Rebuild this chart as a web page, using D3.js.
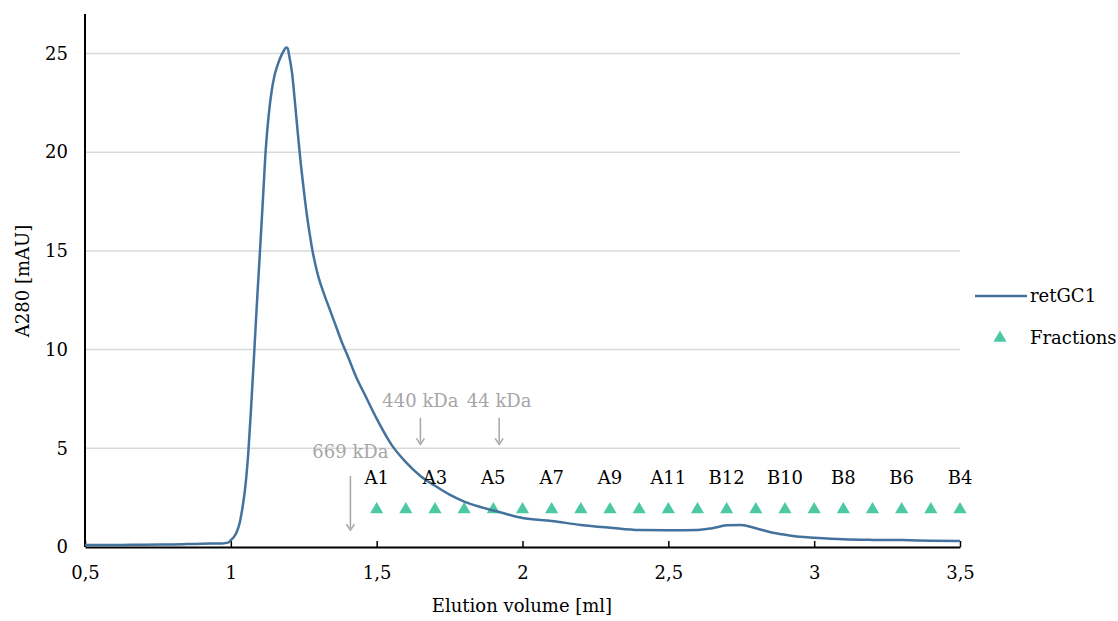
<!DOCTYPE html>
<html>
<head>
<meta charset="utf-8">
<script src="https://cdn.jsdelivr.net/npm/d3@7"></script>
<style>
  body { margin: 0; background: #fff; }
</style>
</head>
<body>
<svg id="canvas"></svg>
<script>
// Declare data
let volumes = [0.5, 0.6, 0.7, 0.8, 0.9, 0.97, 0.99, 1.0, 1.01, 1.02, 1.03, 1.04, 1.05, 1.06, 1.07, 1.08, 1.09, 1.10,
  1.11, 1.12, 1.13, 1.14, 1.15, 1.16, 1.17, 1.18, 1.19, 1.195, 1.20, 1.21, 1.22, 1.23, 1.24, 1.25, 1.26, 1.27, 1.28,
  1.29, 1.30, 1.32, 1.34, 1.36, 1.38, 1.40, 1.43, 1.46, 1.50, 1.55, 1.60, 1.65, 1.70, 1.75, 1.80, 1.85, 1.90, 1.95, 2.0,
  2.1, 2.2, 2.3, 2.4, 2.5, 2.6, 2.65, 2.7, 2.75, 2.8, 2.85, 2.9, 2.95, 3.0, 3.1, 3.2, 3.3, 3.4, 3.5];
let absorbance = [0.1, 0.1, 0.12, 0.13, 0.17, 0.18, 0.22, 0.35, 0.5, 0.75, 1.2, 2.0, 3.1, 4.8, 7.2, 9.8, 12.5, 15,
  17.6, 20.2, 21.9, 23.1, 23.9, 24.4, 24.8, 25.1, 25.3, 25.25, 24.9, 24.0, 22.5, 20.9, 19.4, 18.1, 16.9, 15.9, 15.0,
  14.3, 13.7, 12.8, 12.0, 11.2, 10.4, 9.7, 8.6, 7.7, 6.5, 5.2, 4.3, 3.6, 3.1, 2.65, 2.3, 2.05, 1.85, 1.65, 1.47,
  1.32, 1.12, 0.98, 0.86, 0.85, 0.86, 0.95, 1.1, 1.12, 0.95, 0.75, 0.62, 0.52, 0.47, 0.39, 0.36, 0.35, 0.32, 0.3];

let fractionVolumes = [1.5, 1.6, 1.7, 1.8, 1.9, 2.0, 2.1, 2.2, 2.3, 2.4, 2.5, 2.6, 2.7, 2.8, 2.9, 3.0, 3.1, 3.2, 3.3, 3.4, 3.5];
let fractionLevel = 1.9;

let fractionLabels = ["A1", "A3", "A5", "A7", "A9", "A11", "B12", "B10", "B8", "B6", "B4"];
let fractionLabelVolumes = [1.5, 1.7, 1.9, 2.1, 2.3, 2.5, 2.7, 2.9, 3.1, 3.3, 3.5];
let fractionLabelLevel = 3.5;

let markerNames = ["669 kDa", "440 kDa", "44 kDa"];
let markerVolumes = [1.41, 1.65, 1.92];
let markerTextLevels = [4.85, 7.4, 7.4];
let markerArrowTop = [3.6, 6.55, 6.55];
let markerArrowBottom = [0.85, 5.2, 5.2];

let xTicks = [0.5, 1, 1.5, 2, 2.5, 3, 3.5];
let yTicks = [0, 5, 10, 15, 20, 25];

// Layout
let width = 1118;
let height = 621;
let plotLeft = 85, plotRight = 960, plotTop = 14, plotBottom = 547;
let fontSize = 18;
let serif = "'DejaVu Serif', 'Liberation Serif', 'Times New Roman', serif";
let lineColor = "#43729c";
let triColor = "#4cc8a2";
let gray = "#a6a6a6";

let canvas = d3.select("#canvas").attr("width", width).attr("height", height)
  .style("font-family", serif);

let xScale = d3.scaleLinear().domain([0.5, 3.5]).range([plotLeft, plotRight]);
let yScale = d3.scaleLinear().domain([0, 27]).range([plotBottom, plotTop]);

let commaFormat = (d) => String(d).replace(".", ",");

// Gridlines
canvas.append("g")
  .selectAll("line")
  .data(yTicks.filter((d) => d > 0))
  .enter()
  .append("line")
  .attr("x1", plotLeft)
  .attr("x2", plotRight)
  .attr("y1", (d) => yScale(d))
  .attr("y2", (d) => yScale(d))
  .attr("stroke", "#d9d9d9")
  .attr("stroke-width", 1.5);

// Axes
let xAxis = d3.axisBottom(xScale).tickValues(xTicks).tickFormat(commaFormat).tickSizeInner(-6).tickSizeOuter(0).tickPadding(19);
let yAxis = d3.axisLeft(yScale).tickValues(yTicks).tickSize(0).tickPadding(17);

let gx = canvas.append("g")
  .attr("transform", "translate(0," + plotBottom + ")")
  .call(xAxis);
gx.attr("font-family", null).attr("font-size", fontSize);
gx.select(".domain").attr("stroke", "#000").attr("stroke-width", 2);
gx.selectAll(".tick line").attr("stroke", "#000").attr("stroke-width", 1.5);
gx.selectAll(".tick text").attr("fill", "#000");

let gy = canvas.append("g")
  .attr("transform", "translate(" + plotLeft + ",0)")
  .call(yAxis);
gy.attr("font-family", null).attr("font-size", fontSize);
gy.select(".domain").remove();
gy.append("line")
  .attr("x1", 0).attr("x2", 0)
  .attr("y1", plotTop).attr("y2", plotBottom)
  .attr("stroke", "#000").attr("stroke-width", 2);
gy.selectAll(".tick text").attr("fill", "#000");

// Axis titles
canvas.append("text")
  .attr("x", 522)
  .attr("y", 612)
  .attr("text-anchor", "middle")
  .attr("font-size", fontSize)
  .text("Elution volume [ml]");

canvas.append("text")
  .attr("transform", "translate(29," + 281 + ") rotate(-90)")
  .attr("text-anchor", "middle")
  .attr("font-size", fontSize)
  .text("A280 [mAU]");

// Fraction triangles
let triangle = d3.symbol().type(d3.symbolTriangle).size(75);
canvas.append("g")
  .selectAll("path")
  .data(fractionVolumes)
  .enter()
  .append("path")
  .attr("d", triangle)
  .attr("transform", (d) => "translate(" + xScale(d) + "," + yScale(fractionLevel) + ")")
  .attr("fill", triColor);

// Chromatogram line
let points = volumes.map((v, i) => [v, absorbance[i]]);
let line = d3.line()
  .x((d) => xScale(d[0]))
  .y((d) => yScale(d[1]))
  .curve(d3.curveMonotoneX);

canvas.append("path")
  .datum(points)
  .attr("d", line)
  .attr("fill", "none")
  .attr("stroke", lineColor)
  .attr("stroke-width", 2.5);

// Fraction labels
canvas.append("g")
  .selectAll("text")
  .data(fractionLabels)
  .enter()
  .append("text")
  .attr("x", (d, i) => xScale(fractionLabelVolumes[i]))
  .attr("y", yScale(fractionLabelLevel))
  .attr("dy", "0.35em")
  .attr("text-anchor", "middle")
  .attr("font-size", fontSize)
  .text((d) => d);

// Marker annotations
let markers = canvas.append("g");
markers.selectAll("text")
  .data(markerNames)
  .enter()
  .append("text")
  .attr("x", (d, i) => xScale(markerVolumes[i]))
  .attr("y", (d, i) => yScale(markerTextLevels[i]))
  .attr("dy", "0.35em")
  .attr("text-anchor", "middle")
  .attr("font-size", fontSize)
  .attr("fill", gray)
  .text((d) => d);

markers.selectAll("line")
  .data(markerNames)
  .enter()
  .append("line")
  .attr("x1", (d, i) => xScale(markerVolumes[i]))
  .attr("x2", (d, i) => xScale(markerVolumes[i]))
  .attr("y1", (d, i) => yScale(markerArrowTop[i]))
  .attr("y2", (d, i) => yScale(markerArrowBottom[i]) - 2)
  .attr("stroke", gray)
  .attr("stroke-width", 1.5);

markers.selectAll("path")
  .data(markerNames)
  .enter()
  .append("path")
  .attr("d", (d, i) => {
    let x = xScale(markerVolumes[i]);
    let y = yScale(markerArrowBottom[i]);
    return "M" + (x - 4) + "," + (y - 6) + "L" + x + "," + y + "L" + (x + 4) + "," + (y - 6);
  })
  .attr("fill", "none")
  .attr("stroke", gray)
  .attr("stroke-width", 1.5);

// Legend
let legend = canvas.append("g");
legend.append("line")
  .attr("x1", 975).attr("x2", 1027)
  .attr("y1", 296).attr("y2", 296)
  .attr("stroke", lineColor)
  .attr("stroke-width", 2.5);
legend.append("text")
  .attr("x", 1030).attr("y", 296).attr("dy", "0.35em")
  .attr("font-size", fontSize)
  .text("retGC1");
legend.append("path")
  .attr("d", triangle)
  .attr("transform", "translate(1000,338)")
  .attr("fill", triColor);
legend.append("text")
  .attr("x", 1030).attr("y", 338).attr("dy", "0.35em")
  .attr("font-size", fontSize)
  .text("Fractions");
</script>
</body>
</html>
